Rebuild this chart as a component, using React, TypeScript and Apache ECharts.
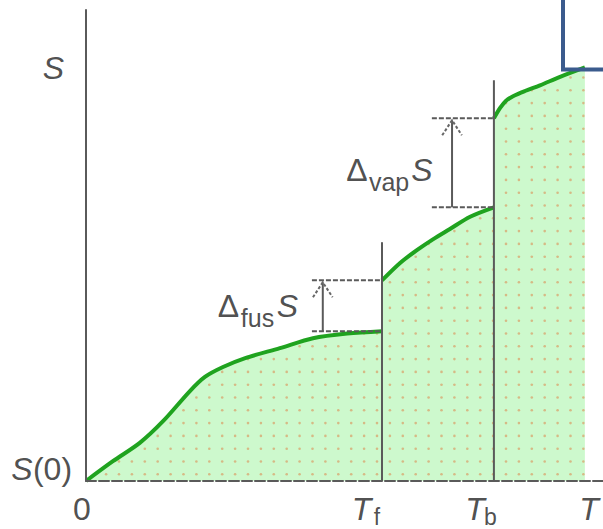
import React, { useEffect, useRef } from "react";
import * as echarts from "echarts";

// Schematic entropy S(T) of a pure substance: solid, liquid and gas branches
// with the jumps at the melting point T_f and the boiling point T_b.
const X_MAX = 100;
const Y_MAX = 100;

const T_FUS = 57.25;
const T_BOIL = 78.9;
const T_END = 96.5;

// entropy along each phase branch, [T, S]
const solidBranch: number[][] = [
  [0, 0], [5.2, 4.2], [10.4, 8.1], [14.9, 12.7], [20.1, 19.1], [23.0, 22.1],
  [26.5, 24.2], [30.8, 26.1], [37.5, 28.2], [43.9, 30.3], [50.5, 31.3], [T_FUS, 31.8],
];
const liquidBranch: number[][] = [
  [T_FUS, 42.6], [60.75, 46.3], [64.0, 49.0], [67.1, 51.3], [70.4, 53.5],
  [74.3, 56.1], [T_BOIL, 58.1],
];
const gasBranch: number[][] = [
  [T_BOIL, 77.0], [80.1, 79.2], [81.2, 80.7], [82.6, 81.7], [84.9, 82.8],
  [87.8, 84.0], [91.7, 85.8], [T_END, 87.8],
];

const FUS_LOW = solidBranch[solidBranch.length - 1][1];
const FUS_HIGH = liquidBranch[0][1];
const VAP_LOW = liquidBranch[liquidBranch.length - 1][1];
const VAP_HIGH = gasBranch[0][1];
const S_END = gasBranch[gasBranch.length - 1][1];

// guide geometry (T positions of the arrows, tops of the phase lines)
const FUS_ARROW_T = 45.8;
const FUS_GUIDE_T = 43.7;
const VAP_ARROW_T = 70.8;
const VAP_GUIDE_T = 66.9;
const T_FUS_TOP = 50.7;
const T_BOIL_TOP = 85.1;

const FONT = '"Liberation Sans", Arial, sans-serif';
const INK = "#222222";
const GUIDE = "#5a5a5a";

type Piece = {
  text: string;
  at: number[];
  off: number[];
  size: number;
  italic?: boolean;
};

const labelPieces: Piece[] = [
  { text: "S", at: [0, S_END], off: [-32.5, 1], size: 32, italic: true },
  { text: "S", at: [0, 0], off: [-64, -12.5], size: 32, italic: true },
  { text: "(0)", at: [0, 0], off: [-33.5, -12.5], size: 32 },
  { text: "0", at: [0, 0], off: [-4, 28], size: 32 },
  { text: "T", at: [T_FUS, 0], off: [-20.5, 28], size: 32, italic: true },
  { text: "f", at: [T_FUS, 0], off: [-5, 35.8], size: 23 },
  { text: "T", at: [T_BOIL, 0], off: [-19, 28], size: 32, italic: true },
  { text: "b", at: [T_BOIL, 0], off: [-3.5, 35.8], size: 23 },
  { text: "T", at: [T_END, 0], off: [4, 28], size: 32, italic: true },
  { text: "\u0394", at: [FUS_ARROW_T, FUS_LOW], off: [-94.3, -25.7], size: 32 },
  { text: "fus", at: [FUS_ARROW_T, FUS_LOW], off: [-65.3, -13.5], size: 25 },
  { text: "S", at: [FUS_ARROW_T, FUS_LOW], off: [-35.3, -25.7], size: 32, italic: true },
  { text: "\u0394", at: [VAP_ARROW_T, VAP_LOW], off: [-95, -36.9], size: 32 },
  { text: "vap", at: [VAP_ARROW_T, VAP_LOW], off: [-63, -25.7], size: 25 },
  { text: "S", at: [VAP_ARROW_T, VAP_LOW], off: [-30, -36.9], size: 32, italic: true },
];

// light green tile with a grid of small tan dots
function dotTile(): { url: string; w: number; h: number } {
  const w = 129;
  const h = 128;
  const c = document.createElement("canvas");
  c.width = w;
  c.height = h;
  const g = c.getContext("2d") as CanvasRenderingContext2D;
  g.fillStyle = "#cdf9cd";
  g.fillRect(0, 0, w, h);
  g.fillStyle = "#d6b985";
  for (let i = 0; i < 10; i++) {
    for (let j = 0; j < 10; j++) {
      const x = 2.9 + 12.9 * i;
      const y = 0.7 + 12.8 * j;
      for (const dx of [-w, 0, w]) {
        for (const dy of [-h, 0, h]) {
          g.beginPath();
          g.arc(x + dx, y + dy, 1.3, 0, Math.PI * 2);
          g.fill();
        }
      }
    }
  }
  return { url: c.toDataURL(), w, h };
}

export default function App() {
  const ref = useRef<HTMLDivElement>(null);

  useEffect(() => {
    if (!ref.current) return;
    const chart = echarts.init(ref.current, undefined, { renderer: "svg" });
    const tile = dotTile();
    const fill = {
      image: tile.url,
      repeat: "repeat",
      imageWidth: tile.w,
      imageHeight: tile.h,
    };

    const branch = (data: number[][]) => ({
      type: "line",
      data,
      smooth: 0.3,
      showSymbol: false,
      symbol: "none",
      z: 2,
      lineStyle: { color: "#1fa31f", width: 4 },
      areaStyle: { color: fill, opacity: 1 },
    });

    const wingT = 1.9;
    const wingS = 3.2;
    const chevron = (t: number, top: number) => ({
      coords: [
        [t - wingT, top - 0.4 - wingS],
        [t, top - 0.4],
        [t + wingT, top - 0.4 - wingS],
      ],
    });

    chart.setOption({
      animation: false,
      grid: { left: 86, right: 0, top: 10, bottom: 48 },
      xAxis: {
        type: "value",
        min: 0,
        max: X_MAX,
        z: 10,
        axisLine: { show: true, lineStyle: { color: GUIDE, width: 2, type: [10, 3] } },
        axisTick: { show: false },
        axisLabel: { show: false },
        splitLine: { show: false },
      },
      yAxis: {
        type: "value",
        min: 0,
        max: Y_MAX,
        z: 10,
        axisLine: { show: true, lineStyle: { color: GUIDE, width: 2 } },
        axisTick: { show: false },
        axisLabel: { show: false },
        splitLine: { show: false },
      },
      series: [
        branch(solidBranch),
        branch(liquidBranch),
        branch(gasBranch),
        {
          type: "lines",
          coordinateSystem: "cartesian2d",
          polyline: true,
          z: 4,
          lineStyle: { color: GUIDE, width: 2, opacity: 1, curveness: 0 },
          data: [
            { coords: [[T_FUS, 0], [T_FUS, T_FUS_TOP]] },
            { coords: [[T_BOIL, 0], [T_BOIL, T_BOIL_TOP]] },
            { coords: [[FUS_ARROW_T, FUS_LOW], [FUS_ARROW_T, FUS_HIGH - 0.4]] },
            { coords: [[VAP_ARROW_T, VAP_LOW], [VAP_ARROW_T, VAP_HIGH - 0.4]] },
          ],
        },
        {
          type: "lines",
          coordinateSystem: "cartesian2d",
          polyline: true,
          z: 4,
          lineStyle: { color: GUIDE, width: 2, opacity: 1, type: [5, 2] },
          data: [
            { coords: [[FUS_GUIDE_T, FUS_LOW], [T_FUS, FUS_LOW]] },
            { coords: [[FUS_GUIDE_T, FUS_HIGH], [T_FUS, FUS_HIGH]] },
            { coords: [[VAP_GUIDE_T, VAP_LOW], [T_BOIL, VAP_LOW]] },
            { coords: [[VAP_GUIDE_T, VAP_HIGH], [T_BOIL, VAP_HIGH]] },
          ],
        },
        {
          type: "lines",
          coordinateSystem: "cartesian2d",
          polyline: true,
          z: 4,
          lineStyle: { color: "#666666", width: 2, opacity: 1, type: [3, 2] },
          data: [chevron(FUS_ARROW_T, FUS_HIGH), chevron(VAP_ARROW_T, VAP_HIGH)],
        },
        {
          type: "scatter",
          z: 6,
          symbolSize: 1,
          clip: false,
          itemStyle: { color: "rgba(0,0,0,0)" },
          silent: true,
          data: labelPieces.map((p) => ({
            value: p.at,
            label: {
              show: true,
              position: "inside",
              offset: p.off,
              formatter: p.text,
              fontFamily: FONT,
              fontSize: p.size,
              fontStyle: p.italic ? "italic" : "normal",
              color: INK,
              align: "center",
              verticalAlign: "middle",
            },
          })),
        },
      ],
      graphic: [
        {
          type: "rect",
          z: 100,
          shape: { x: 563, y: -20, width: 80, height: 89.5 },
          style: { fill: "none", stroke: "#3b5b8d", lineWidth: 4 },
        },
      ],
    });

    return () => chart.dispose();
  }, []);

  return (
    <div
      ref={ref}
      style={{ position: "absolute", left: 0, top: 0, width: 603, height: 529, background: "#ffffff" }}
    />
  );
}
